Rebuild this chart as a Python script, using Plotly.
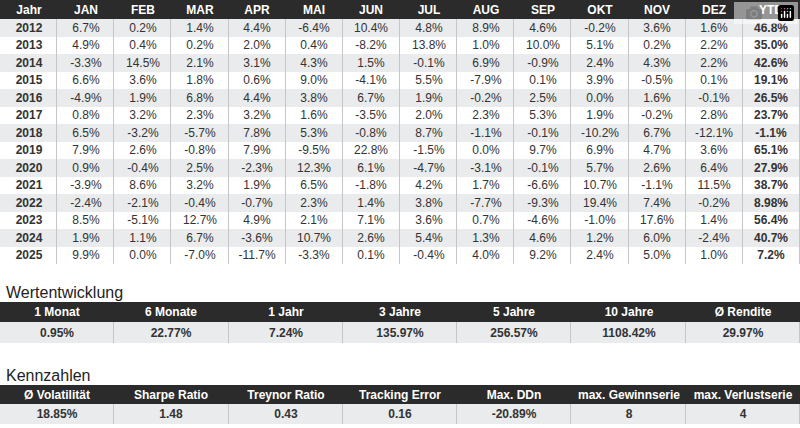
import plotly.graph_objects as go

years = list(range(2012, 2026))
months = ["JAN","FEB","MAR","APR","MAI","JUN","JUL","AUG","SEP","OKT","NOV","DEZ"]
jan = [6.7,4.9,-3.3,6.6,-4.9,0.8,6.5,7.9,0.9,-3.9,-2.4,8.5,1.9,9.9]
feb = [0.2,0.4,14.5,3.6,1.9,3.2,-3.2,2.6,-0.4,8.6,-2.1,-5.1,1.1,0.0]
mar = [1.4,0.2,2.1,1.8,6.8,2.3,-5.7,-0.8,2.5,3.2,-0.4,12.7,6.7,-7.0]
apr = [4.4,2.0,3.1,0.6,4.4,3.2,7.8,7.9,-2.3,1.9,-0.7,4.9,-3.6,-11.7]
mai = [-6.4,0.4,4.3,9.0,3.8,1.6,5.3,-9.5,12.3,6.5,2.3,2.1,10.7,-3.3]
jun = [10.4,-8.2,1.5,-4.1,6.7,-3.5,-0.8,22.8,6.1,-1.8,1.4,7.1,2.6,0.1]
jul = [4.8,13.8,-0.1,5.5,1.9,2.0,8.7,-1.5,-4.7,4.2,3.8,3.6,5.4,-0.4]
aug = [8.9,1.0,6.9,-7.9,-0.2,2.3,-1.1,0.0,-3.1,1.7,-7.7,0.7,1.3,4.0]
sep = [4.6,10.0,-0.9,0.1,2.5,5.3,-0.1,9.7,-0.1,-6.6,-9.3,-4.6,4.6,9.2]
okt = [-0.2,5.1,2.4,3.9,0.0,1.9,-10.2,6.9,5.7,10.7,19.4,-1.0,1.2,2.4]
nov = [3.6,0.2,4.3,-0.5,1.6,-0.2,6.7,4.7,2.6,-1.1,7.4,17.6,6.0,5.0]
dez = [1.6,2.2,2.2,0.1,-0.1,2.8,-12.1,3.6,6.4,11.5,-0.2,1.4,-2.4,1.0]
ytd = ["46.8%","35.0%","42.6%","19.1%","26.5%","23.7%","-1.1%","65.1%","27.9%","38.7%","8.98%","56.4%","40.7%","7.2%"]

perf_labels = ["1 Monat","6 Monate","1 Jahr","3 Jahre","5 Jahre","10 Jahre","Ø Rendite"]
perf_values = ["0.95%","22.77%","7.24%","135.97%","256.57%","1108.42%","29.97%"]
kz_labels = ["Ø Volatilität","Sharpe Ratio","Treynor Ratio","Tracking Error","Max. DDn","max. Gewinnserie","max. Verlustserie"]
kz_values = ["18.85%","1.48","0.43","0.16","-20.89%","8","4"]

H = 428
DARK = "#2b2b2b"
STRIPE = "#e9ebec"
LINE = "#c4c6c8"
FONT = "Liberation Sans"
NARROW = "Liberation Sans Narrow, Liberation Sans"

def ydom(top, bottom):
    return [1 - bottom / H, 1 - top / H]

fig = go.Figure()
ax = [0]

def add_block(top, hdr_h, body_h, headers, rows_text, rows_z, font, hdr_size=12, body_size=12):
    ncol = len(headers)
    # header
    ax[0] += 1
    i = ax[0]
    fig.add_trace(go.Heatmap(
        z=[[0]*ncol], x=list(range(ncol)), y=[0], text=[["<b>%s</b>" % h for h in headers]],
        texttemplate="%{text}", textfont=dict(color="white", size=hdr_size, family=font),
        colorscale=[[0, DARK], [1, DARK]], showscale=False, hoverinfo="skip",
        xaxis="x%d" % i, yaxis="y%d" % i))
    fig.layout["xaxis%d" % i] = dict(domain=[0, 1], range=[-0.5, ncol - 0.5], visible=False, fixedrange=True)
    fig.layout["yaxis%d" % i] = dict(domain=ydom(top, top + hdr_h), range=[0.5, -0.5], visible=False, fixedrange=True)
    # body
    ax[0] += 1
    j = ax[0]
    nr = len(rows_text)
    fig.add_trace(go.Heatmap(
        z=rows_z, x=list(range(ncol)), y=list(range(nr)), text=rows_text,
        texttemplate="%{text}", textfont=dict(color="#333", size=body_size, family=font),
        colorscale=[[0, "white"], [1, STRIPE]], zmin=0, zmax=1, showscale=False, hoverinfo="skip",
        xgap=1, xaxis="x%d" % j, yaxis="y%d" % j))
    fig.layout["xaxis%d" % j] = dict(domain=[0, 1], range=[-0.5, ncol - 0.5], visible=False, fixedrange=True)
    fig.layout["yaxis%d" % j] = dict(domain=ydom(top + hdr_h, top + hdr_h + body_h), range=[nr - 0.5, -0.5],
                                     visible=False, fixedrange=True)

cols = [jan,feb,mar,apr,mai,jun,jul,aug,sep,okt,nov,dez]
rows_text = []
rows_z = []
for r, y in enumerate(years):
    row = ["<b>%d</b>" % y] + [f"{c[r]:.1f}%" for c in cols] + ["<b>%s</b>" % ytd[r]]
    rows_text.append(row)
    rows_z.append([1 if r % 2 == 0 else 0] * 14)
add_block(0, 19, 245, ["Jahr"] + months + ["YTD"], rows_text, rows_z, FONT)
add_block(302, 20, 21, perf_labels, [["<b>%s</b>" % v for v in perf_values]], [[1]*7], NARROW)
add_block(385, 19, 20, kz_labels, [["<b>%s</b>" % v for v in kz_values]], [[1]*7], NARROW)

fig.add_annotation(text="Wertentwicklung", x=0.005, y=1 - 292/H, xref="paper", yref="paper",
                   showarrow=False, xanchor="left", yanchor="middle",
                   font=dict(size=16, color="#222", family=NARROW))
fig.add_annotation(text="Kennzahlen", x=0.005, y=1 - 375/H, xref="paper", yref="paper",
                   showarrow=False, xanchor="left", yanchor="middle",
                   font=dict(size=16, color="#222", family=NARROW))
fig.update_layout(width=800, height=H, margin=dict(l=0, r=0, t=0, b=0),
                  paper_bgcolor="white", plot_bgcolor=LINE)
fig.write_html("out.html", post_script="document.body.style.margin='0';")
